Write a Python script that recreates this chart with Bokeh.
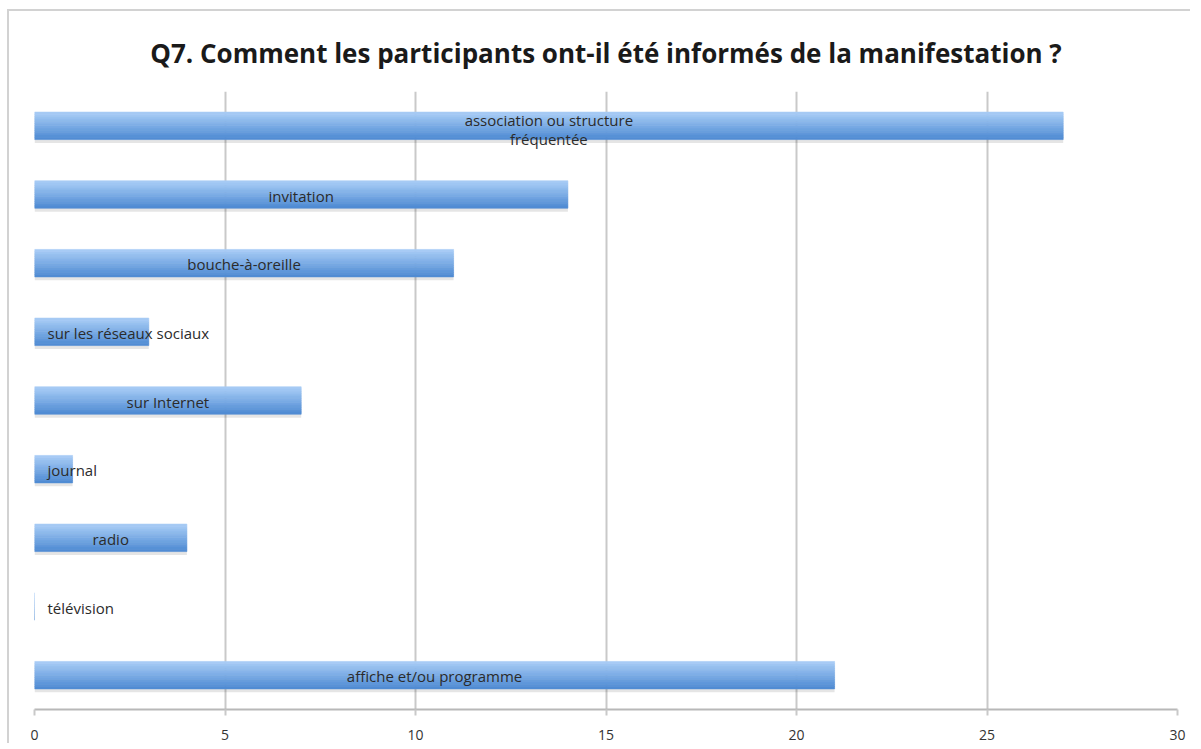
from bokeh.plotting import figure
from bokeh.models import Range1d, ColumnDataSource, Title, FixedTicker
from bokeh.core.properties import value
from bokeh.embed import file_html
from bokeh.resources import INLINE

categories = ["association ou structure\nfréquentée", "invitation", "bouche-à-oreille",
              "sur les réseaux sociaux", "sur Internet", "journal", "radio",
              "télévision", "affiche et/ou programme"]
counts = [27, 14, 11, 3, 7, 1, 4, 0, 21]
x_ticks = [0, 5, 10, 15, 20, 25, 30]
title_text = "Q7. Comment les participants ont-il été informés de la manifestation ?"

FONT = "Open Sans"
BAR_H = 0.40
GRAD = ["#a7cbf5", "#a0c6f3", "#98c1f0", "#90bbed", "#88b5ea", "#80afe7", "#78aae4",
        "#70a4e1", "#689edd", "#6098da", "#5892d7", "#518cd4"]

p = figure(width=1183, height=734, x_range=Range1d(0, 30), y_range=Range1d(8.5, -0.5),
           output_backend="svg", toolbar_location=None,
           min_border_left=25, min_border_right=15, min_border_top=80, min_border_bottom=36)
p.styles = {"border-top": "2px solid #d2d2d2", "border-left": "2px solid #d2d2d2",
            "margin-top": "9px", "margin-left": "7px"}
p.outline_line_color = None

ys = list(range(len(categories)))

# subtle shadow
p.hbar(y=[y + 0.05 for y in ys], left=0, right=counts, height=BAR_H,
       fill_color="#000000", fill_alpha=0.10, line_color=None)

# gradient bars made from stacked strips
n = len(GRAD)
for k, c in enumerate(GRAD):
    yk = [y - BAR_H / 2 + (k + 0.5) * BAR_H / n for y in ys]
    p.hbar(y=yk, left=0, right=counts, height=BAR_H / n,
           fill_color=c, line_color=c, line_width=1, line_alpha=0.6)

# labels: centered in the bar when they fit, otherwise left aligned near the axis
px_per_unit = (1176 - 34) / 30.0
lx, la, loff, yoff = [], [], [], []
for lab, v in zip(categories, counts):
    w = max(len(s) for s in lab.split("\n")) * 7.6
    if w + 10 < v * px_per_unit:
        lx.append(v / 2.0); la.append("center"); loff.append(0)
    else:
        lx.append(0); la.append("left"); loff.append(13)
    yoff.append(4 if "\n" in lab else 1)
src = ColumnDataSource(dict(x=lx, y=ys, text=categories, align=la, off=loff, yoff=yoff))
p.text(x="x", y="y", text="text", text_align="align", x_offset="off", y_offset="yoff", source=src,
       text_baseline="middle", text_font=value(FONT), text_font_size="15px",
       text_color="#2b2b2b", text_line_height=0.95)

p.title = Title(text=title_text, align="center", text_font=FONT, text_font_size="26px",
                text_font_style="bold", text_color="#1a1a1a", standoff=42,
                text_line_height=0.8)

p.xgrid.ticker = FixedTicker(ticks=x_ticks)
p.xgrid.grid_line_color = "#c9c9c9"
p.xgrid.grid_line_width = 2
p.ygrid.grid_line_color = None

p.xaxis.ticker = FixedTicker(ticks=x_ticks)
p.xaxis.axis_line_color = "#b8b8b8"
p.xaxis.axis_line_width = 2
p.xaxis.major_tick_line_color = "#c9c9c9"
p.xaxis.major_tick_line_width = 2
p.xaxis.major_tick_out = 6
p.xaxis.major_tick_in = 0
p.xaxis.minor_tick_line_color = None
p.xaxis.major_label_text_font = FONT
p.xaxis.major_label_text_font_size = "14px"
p.xaxis.major_label_text_color = "#333333"
p.xaxis.major_label_standoff = 14
p.yaxis.visible = False

open("out.html", "w").write(file_html(p, INLINE))
